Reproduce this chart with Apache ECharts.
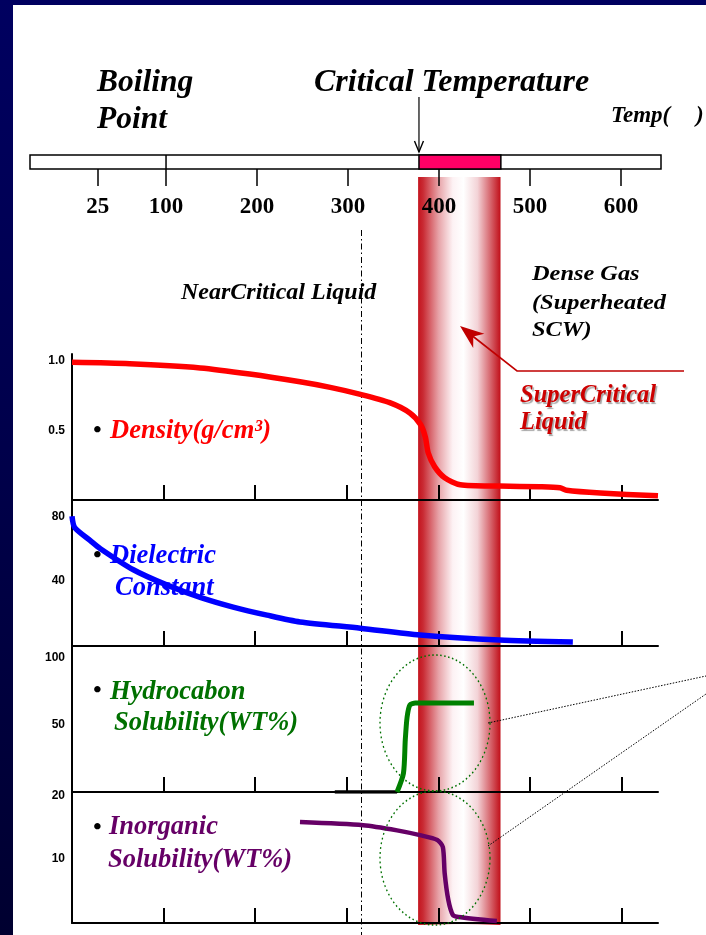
<!DOCTYPE html>
<html>
<head>
<meta charset="utf-8">
<script src="https://cdn.jsdelivr.net/npm/echarts@6/dist/echarts.min.js"></script>
<style>
html,body{margin:0;padding:0;width:706px;height:935px;overflow:hidden;}
body{background:linear-gradient(to bottom,#000060 0%,#00004a 50%,#000030 100%);position:relative;}
#paper{position:absolute;left:13px;top:5px;width:693px;height:930px;background:#fff;}
#chart{position:absolute;left:0;top:0;width:706px;height:935px;}
</style>
</head>
<body>
<div id="paper"></div>
<div id="chart"></div>
<script>
// ---- data ----
const tempTicks = [25, 100, 200, 300, 400, 500, 600];
const panelTicks = [100, 200, 300, 400, 500, 600];
const boilingDivider = 100;
const criticalBand = [378, 468];
const nearCriticalBoundary = 316;

const densityT = [0, 63, 140, 194, 249, 282, 315, 347, 369, 381, 386, 389, 396, 407, 424, 467, 511, 533, 540, 577, 640];
const densityV = [0.99, 0.98, 0.95, 0.906, 0.85, 0.81, 0.76, 0.70, 0.626, 0.54, 0.45, 0.34, 0.24, 0.16, 0.11, 0.10, 0.095, 0.088, 0.07, 0.05, 0.03];
const densityTicks = [0.5, 1.0];

const dielT = [0, 3, 20, 31, 67, 104, 140, 176, 213, 249, 315, 380, 467, 547];
const dielV = [80, 73, 65, 60, 47, 37.5, 30, 24, 19, 14.8, 11, 6.8, 3.7, 2.5];
const dielTicks = [40, 80];

const hcBaseT = [287, 355];
const hcBaseV = [0, 0];
const hcT = [355, 362, 364, 366, 369, 375, 439];
const hcV = [0, 14, 39, 56, 65, 66.4, 66.4];
const hcTicks = [50, 100];

const inorgT = [249, 318, 355, 380, 399, 405, 407, 411, 416, 422, 464];
const inorgV = [15.8, 15.3, 14.5, 13.75, 13.0, 11.9, 7.8, 3.6, 1.25, 0.95, 0.3];
const inorgTicks = [10, 20];

// ---- helpers ----
const SERIF = "'Liberation Serif','Times New Roman',serif";
const SANS = "'Liberation Sans',Arial,sans-serif";
const pairs = (xs, ys) => xs.map((x, i) => [x, ys[i]]);

const chart = echarts.init(document.getElementById('chart'), null, {renderer: 'canvas'});

function panelX(i) {
  return {
    gridIndex: i, type: 'value', min: 0, max: 640,
    axisLine: {show: true, lineStyle: {color: '#000', width: 2}},
    axisTick: {show: true, inside: true, length: 15, customValues: panelTicks, lineStyle: {color: '#000', width: 2}},
    axisLabel: {show: false},
    splitLine: {show: false}
  };
}
function panelY(i, max, ticks, dec) {
  return {
    gridIndex: i, type: 'value', min: 0, max: max,
    axisLine: {show: true, lineStyle: {color: '#000', width: 2}},
    axisTick: {show: false},
    axisLabel: {customValues: ticks, color: '#000', fontWeight: 'bold', fontFamily: SANS, fontSize: 12, margin: 7,
      formatter: v => dec ? Number(v).toFixed(1) : String(v)},
    splitLine: {show: false}
  };
}
function line(name, xi, xs, ys, color, width) {
  return {
    name: name, type: 'line', xAxisIndex: xi, yAxisIndex: xi, data: pairs(xs, ys),
    showSymbol: false, symbol: 'none', smooth: 0.25, z: 5,
    lineStyle: {color: color, width: width, cap: 'butt', join: 'round'}
  };
}

const bandGradient = new echarts.graphic.LinearGradient(0, 0, 1, 0, [
  {offset: 0, color: '#c4141e'},
  {offset: 0.06, color: '#c92a33'},
  {offset: 0.25, color: '#e7a3a8'},
  {offset: 0.42, color: '#fdf2f4'},
  {offset: 0.55, color: '#ffffff'},
  {offset: 0.72, color: '#f3d3d7'},
  {offset: 0.9, color: '#d2565e'},
  {offset: 1, color: '#c10f19'}
]);

function T(str, x, y, fs, color, extra, styleExtra) {
  return Object.assign({
    type: 'text', x: x, y: y, z: 20,
    style: Object.assign({text: str, font: 'italic bold ' + fs + 'px ' + SERIF, fill: color, verticalAlign: 'middle', align: 'left'}, styleExtra || {})
  }, extra || {});
}
const redShadow = {textShadowColor: 'rgba(0,0,0,0.35)', textShadowOffsetX: 1.5, textShadowOffsetY: 1.5, textShadowBlur: 1};

const option = {
  animation: false,
  backgroundColor: 'transparent',
  grid: [
    {left: 30, right: 45, top: 155, height: 14, show: true, backgroundColor: '#fff', borderColor: '#000', borderWidth: 1.5},
    {left: 72, right: 48, top: 177, bottom: 10},
    {left: 72, right: 48, top: 354, height: 146},
    {left: 72, right: 48, top: 500, height: 146},
    {left: 72, right: 48, top: 646, height: 146},
    {left: 72, right: 48, top: 792, height: 131}
  ],
  xAxis: [
    {gridIndex: 0, type: 'value', min: -49.5, max: 644,
      axisLine: {show: false}, splitLine: {show: false},
      axisTick: {show: true, length: 17, customValues: tempTicks, lineStyle: {color: '#000', width: 1.5}},
      axisLabel: {customValues: tempTicks, margin: 27, color: '#000', fontWeight: 'bold', fontFamily: SERIF, fontSize: 23}},
    {gridIndex: 1, type: 'value', min: 0, max: 640, show: false},
    panelX(2), panelX(3), panelX(4), panelX(5)
  ],
  yAxis: [
    {gridIndex: 0, type: 'value', min: 0, max: 1, show: false},
    {gridIndex: 1, type: 'value', min: 0, max: 1, show: false},
    panelY(2, 1.05, densityTicks, true),
    panelY(3, 90, dielTicks, false),
    panelY(4, 109, hcTicks, false),
    panelY(5, 20.5, inorgTicks, false)
  ],
  series: [
    // temperature bar: critical segment, boiling divider, critical-temperature arrow
    {type: 'custom', xAxisIndex: 0, yAxisIndex: 0, z: 3, clip: false,
      data: [[criticalBand[0], criticalBand[1], boilingDivider]],
      renderItem: function (params, api) {
        const cs = params.coordSys;
        const a = api.coord([api.value(0), 0])[0];
        const b = api.coord([api.value(1), 0])[0];
        const d = api.coord([api.value(2), 0])[0];
        const top = cs.y, bot = cs.y + cs.height;
        return {type: 'group', children: [
          {type: 'rect', shape: {x: a, y: top, width: b - a, height: cs.height},
            style: {fill: '#ff0066', stroke: '#000', lineWidth: 1.5}},
          {type: 'line', shape: {x1: d, y1: top, x2: d, y2: bot}, style: {stroke: '#000', lineWidth: 1.5}},
          {type: 'line', shape: {x1: a, y1: top - 58, x2: a, y2: top - 3}, style: {stroke: '#000', lineWidth: 1.2}},
          {type: 'polyline', shape: {points: [[a - 4.5, top - 14], [a, top - 3], [a + 4.5, top - 14]]},
            style: {stroke: '#000', lineWidth: 1.4, fill: null}}
        ]};
      }},
    // supercritical band
    {type: 'custom', xAxisIndex: 1, yAxisIndex: 1, z: -1, clip: false,
      data: [[criticalBand[0], criticalBand[1]]],
      renderItem: function (params, api) {
        const cs = params.coordSys;
        const a = api.coord([api.value(0), 0])[0];
        const b = api.coord([api.value(1), 0])[0];
        return {type: 'rect', shape: {x: a, y: cs.y, width: b - a, height: cs.height}, style: {fill: bandGradient}};
      }},
    // near-critical boundary (dash-dot)
    {type: 'custom', xAxisIndex: 1, yAxisIndex: 1, z: 1, clip: false,
      data: [[nearCriticalBoundary]],
      renderItem: function (params, api) {
        const cs = params.coordSys;
        const x = Math.round(api.coord([api.value(0), 0])[0]) + 0.5;
        return {type: 'line', shape: {x1: x, y1: cs.y + 53, x2: x, y2: cs.y + cs.height + 12},
          style: {stroke: '#000', lineWidth: 1, lineDash: [6, 3, 1.5, 3]}};
      }},
    line('Density', 2, densityT, densityV, '#ff0000', 5.5),
    line('Dielectric Constant', 3, dielT, dielV, '#0000ff', 5.5),
    Object.assign(line('Hydrocarbon baseline', 4, hcBaseT, hcBaseV, '#000000', 3.5), {smooth: false}),
    line('Hydrocabon Solubility', 4, hcT, hcV, '#008000', 5),
    line('Inorganic Solubility', 5, inorgT, inorgV, '#660066', 4.5)
  ],
  graphic: [
    T('Boiling', 97, 82.5, 31.5, '#000'),
    T('Point', 97, 119.5, 31.5, '#000'),
    T('Critical Temperature', 314, 82.5, 32, '#000'),
    T('Temp(', 611, 116, 23, '#000'),
    T(')', 696, 116, 23, '#000'),
    T('NearCritical Liquid', 181, 293, 24, '#000'),
    T('Dense Gas', 532, 275, 21, '#000', {scaleX: 1.16}),
    T('(Superheated', 532, 303.5, 21, '#000', {scaleX: 1.16}),
    T('SCW)', 532, 330.5, 21, '#000', {scaleX: 1.16}),
    T('SuperCritical', 520, 396, 24.5, '#cc0000', null, redShadow),
    T('Liquid', 520, 423, 24.5, '#cc0000', null, redShadow),
    // red pointer arrow
    {type: 'polyline', z: 20, shape: {points: [[684, 371], [517, 371], [470, 334]]}, style: {stroke: '#c00000', lineWidth: 1.6, fill: null}},
    {type: 'polygon', z: 20, shape: {points: [[460, 326], [484.4, 333.8], [473.3, 336.5], [473.2, 348]]}, style: {fill: '#c00000'}},
    // legends
    T('•', 93, 431, 24, '#000'),
    T('Density(g/cm³)', 110, 431.5, 26.5, '#ff0000'),
    T('•', 93, 556, 24, '#000'),
    T('Dielectric', 110, 556, 26.5, '#0000ff'),
    T('Constant', 115, 588, 26.5, '#0000ff'),
    T('•', 93, 691, 24, '#000'),
    T('Hydrocabon', 110, 692, 26.5, '#007000'),
    T('Solubility(WT%)', 114, 723, 26.5, '#007000'),
    T('•', 93, 828, 24, '#000'),
    T('Inorganic', 109, 827, 26.5, '#660066'),
    T('Solubility(WT%)', 108, 860, 26.5, '#660066'),
    // dotted highlight ellipses and leader lines
    {type: 'circle', z: 15, x: 435, y: 723, scaleY: 68 / 55, shape: {cx: 0, cy: 0, r: 55},
      style: {fill: null, stroke: '#007000', lineWidth: 1.3, lineDash: [1.5, 2.5], strokeNoScale: true}},
    {type: 'circle', z: 15, x: 435, y: 858, scaleY: 67 / 55, shape: {cx: 0, cy: 0, r: 55},
      style: {fill: null, stroke: '#007000', lineWidth: 1.3, lineDash: [1.5, 2.5], strokeNoScale: true}},
    {type: 'line', z: 15, shape: {x1: 488, y1: 723, x2: 706, y2: 676}, style: {stroke: '#000', lineWidth: 1, lineDash: [1.5, 1.5]}},
    {type: 'line', z: 15, shape: {x1: 488, y1: 846, x2: 706, y2: 694}, style: {stroke: '#000', lineWidth: 1, lineDash: [1.5, 1.5]}}
  ]
};
chart.setOption(option);
</script>
</body>
</html>
